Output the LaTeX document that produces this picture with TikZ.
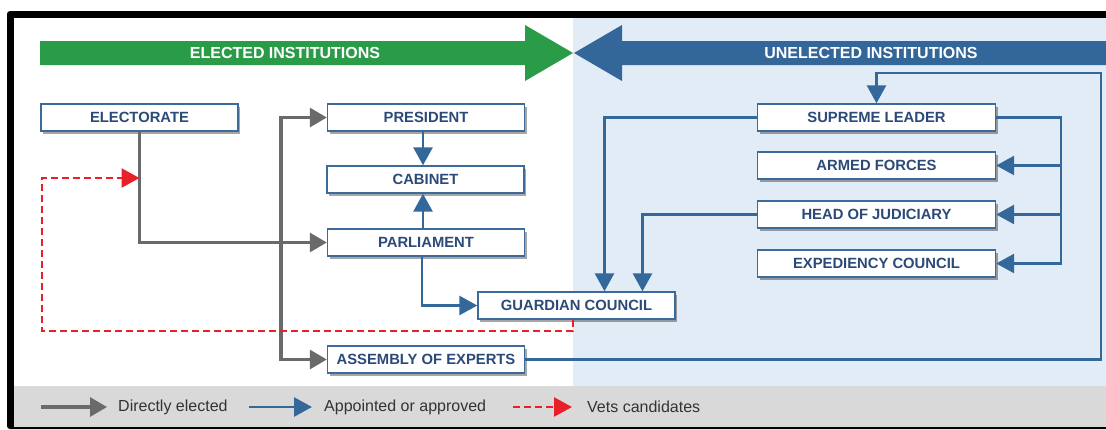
\documentclass[tikz,border=0pt]{standalone}
\usepackage{fontspec}
\setmainfont{Liberation Sans}
\usetikzlibrary{arrows.meta,shadows,calc}
\definecolor{bgblue}{HTML}{E1ECF7}
\definecolor{bandgray}{HTML}{D9D9D9}
\definecolor{hdgreen}{HTML}{2A9C47}
\definecolor{hdblue}{HTML}{336699}
\definecolor{boxblue}{HTML}{3B6A9B}
\definecolor{txtblue}{HTML}{2C4A78}
\definecolor{lngray}{HTML}{6A6A6A}
\definecolor{lnblue}{HTML}{34679A}
\definecolor{lnred}{HTML}{E8202A}
\definecolor{legtxt}{HTML}{333333}
\begin{document}
\begin{tikzpicture}[x=1pt,y=-1pt,
  inst/.style={draw=boxblue,line width=1.4pt,fill=white,minimum width=197pt,minimum height=27pt,
    inner sep=0pt,text=txtblue,font=\bfseries\fontsize{14.8}{16}\selectfont,
    drop shadow={shadow xshift=2pt,shadow yshift=-2.5pt,fill=black,opacity=0.35}},
  instw/.style={inst,minimum width=238pt},
  gline/.style={draw=lngray,line width=3.2pt,-{Triangle[length=17pt,width=19pt]}},
  bline/.style={draw=lnblue,line width=2.8pt,-{Triangle[length=18pt,width=19pt]}},
  rline/.style={draw=lnred,line width=2.6pt,dash pattern=on 7pt off 4pt,-{Triangle[length=18pt,width=19pt]}},
  hdtxt/.style={text=white,font=\bfseries\fontsize{16}{18}\selectfont},
  legtext/.style={anchor=west,text=legtxt,font=\fontsize{16}{18}\selectfont,inner sep=0pt}
]
\useasboundingbox (0,0) rectangle (1106,429);
% frame and backgrounds
\fill[black,rounded corners=3pt] (7,11) rectangle (1120,429);
\fill[white] (14,18) rectangle (1106,427);
\fill[bgblue] (573,18) rectangle (1106,386);
\fill[bandgray] (14,386) rectangle (1106,427);
% header arrows
\fill[hdgreen] (40,41) -- (525,41) -- (525,25) -- (573,53) -- (525,81) -- (525,65) -- (40,65) -- cycle;
\fill[hdblue] (1106,41) -- (622,41) -- (622,25) -- (574,53) -- (622,81) -- (622,65) -- (1106,65) -- cycle;
\node[hdtxt] (hel) at (285,53) {ELECTED INSTITUTIONS};
\node[hdtxt] (hun) at (871,53) {UNELECTED INSTITUTIONS};
% boxes
\node[inst] (electorate) at (139.5,117.5) {ELECTORATE};
\node[inst] (president) at (426,117.5) {PRESIDENT};
\node[inst] (cabinet) at (425.5,179.5) {CABINET};
\node[inst] (parliament) at (426,242.5) {PARLIAMENT};
\node[inst] (guardian) at (576.5,305.5) {GUARDIAN COUNCIL};
\node[inst] (assembly) at (426,359.5) {ASSEMBLY OF EXPERTS};
\node[instw] (supreme) at (876.5,117.5) {SUPREME LEADER};
\node[instw] (armed) at (876.5,165.5) {ARMED FORCES};
\node[instw] (headjud) at (876.5,214.5) {HEAD OF JUDICIARY};
\node[instw] (expediency) at (876.5,263.5) {EXPEDIENCY COUNCIL};
% helper coordinates
\coordinate (gx) at (281,242.5);
\coordinate (rx) at (1061,0);
\coordinate (ar) at (1101,73);
\coordinate (rl) at (42,331);
\coordinate (vet) at (139.5,178);
% gray: directly elected
\draw[gline] (electorate.south) |- (parliament.west);
\draw[gline,{Triangle[length=17pt,width=19pt]}-{Triangle[length=17pt,width=19pt]}] (president.west) -| (gx) |- (assembly.west);
% blue: appointed or approved
\draw[bline] ([xshift=-3pt]president.south) -- ([xshift=-2.5pt]cabinet.north);
\draw[bline] ([xshift=-3pt]parliament.north) -- ([xshift=-2.5pt]cabinet.south);
\draw[bline] ([xshift=-4pt]parliament.south) |- (guardian.west);
\draw[bline] (supreme.west) -| ([xshift=28pt]guardian.north);
\draw[bline] (headjud.west) -| ([xshift=66pt]guardian.north);
\draw[bline] (supreme.east) -| (rx |- expediency.east) -- (expediency.east);
\draw[bline] (rx |- armed.east) -- (armed.east);
\draw[bline] (rx |- headjud.east) -- (headjud.east);
\draw[bline] (assembly.east) -| (ar) -| (supreme.north);
% red: vets candidates
\draw[rline] ([xshift=-3.5pt]guardian.south) |- (rl) |- (vet);
% legend
\coordinate (la1) at (41,407); \coordinate (la2) at (107,407);
\coordinate (lb1) at (249,407); \coordinate (lb2) at (312,407);
\coordinate (lc1) at (513,407); \coordinate (lc2) at (572,407);
\draw[gline] (la1) -- (la2);
\draw[bline] (lb1) -- (lb2);
\draw[rline] (lc1) -- (lc2);
\node[legtext] (leg1) at (118,407) {Directly elected};
\node[legtext] (leg2) at (324,407) {Appointed or approved};
\node[legtext] (leg3) at (587,407) {Vets candidates};
\end{tikzpicture}
\end{document}
